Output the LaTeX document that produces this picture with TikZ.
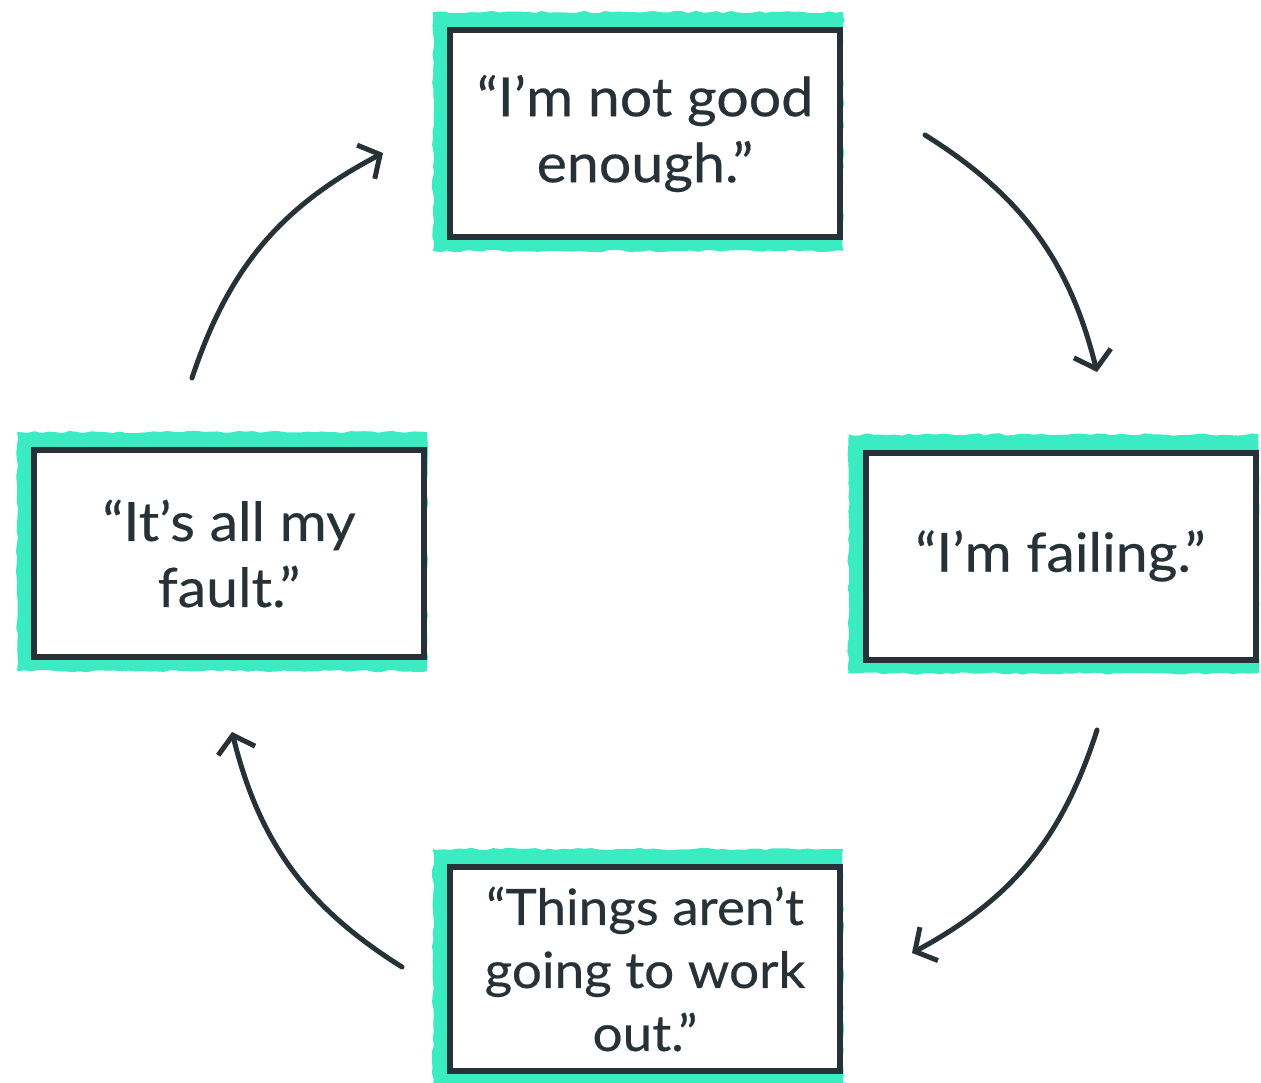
\documentclass[tikz,border=0pt]{standalone}
\usepackage{fontspec}
\setmainfont{Lato}[FakeStretch=1.06, FakeBold=0.4]
\usetikzlibrary{positioning, arrows.meta, calc, backgrounds, decorations.pathmorphing}

\definecolor{ink}{HTML}{263238}
\definecolor{mint}{HTML}{3BEBC1}

\begin{document}
\pgfmathsetseed{7}
\begin{tikzpicture}[
    x=1pt, y=1pt,
    thought/.style={rectangle, draw=ink, line width=6pt, fill=white, minimum width=390pt, minimum height=207pt, inner sep=0pt, align=center, text=ink, font=\fontsize{54}{66}\selectfont},
    mintpatch/.style={fill=mint, decorate, decoration={random steps, segment length=7pt, amplitude=1.2pt}},
    flow/.style={draw=ink, line width=5pt, line cap=round, -{Straight Barb[length=16pt, width=38pt]}, bend left=22}
]
    \useasboundingbox (0,0) rectangle (1261,-1083);

    \node[thought] (notgood) at (645,-133.5) {“I’m not good\\enough.”};
    \node[thought] (failing) at (1060.5,-556) {“I’m failing.”};
    \node[thought, minimum height=204pt, font=\fontsize{50}{63}\selectfont] (workout) at (645,-969) {“Things aren’t\\going to work\\out.”};
    \node[thought] (fault) at (229,-553.5) {“It’s all my\\fault.”};

    % green patches behind each box
    \begin{scope}[on background layer]
        \fill[white] (0,0) rectangle (1261,-1083);
        \foreach \n in {notgood, failing, workout, fault}
            \path[mintpatch] ($(\n.north west)+(-14,15)$) rectangle ($(\n.south east)+(0,-11)$);
    \end{scope}

    \coordinate (a1s) at (925,-135);
    \coordinate (a1e) at (1097,-372);
    \coordinate (a2s) at (1097,-730);
    \coordinate (a2e) at (912,-953);
    \coordinate (a3s) at (402,-967);
    \coordinate (a3e) at (232,-732);
    \coordinate (a4s) at (192,-378);
    \coordinate (a4e) at (383,-153);

    \draw[flow] (a1s) to (a1e);
    \draw[flow] (a2s) to (a2e);
    \draw[flow] (a3s) to (a3e);
    \draw[flow] (a4s) to (a4e);

\end{tikzpicture}
\end{document}
